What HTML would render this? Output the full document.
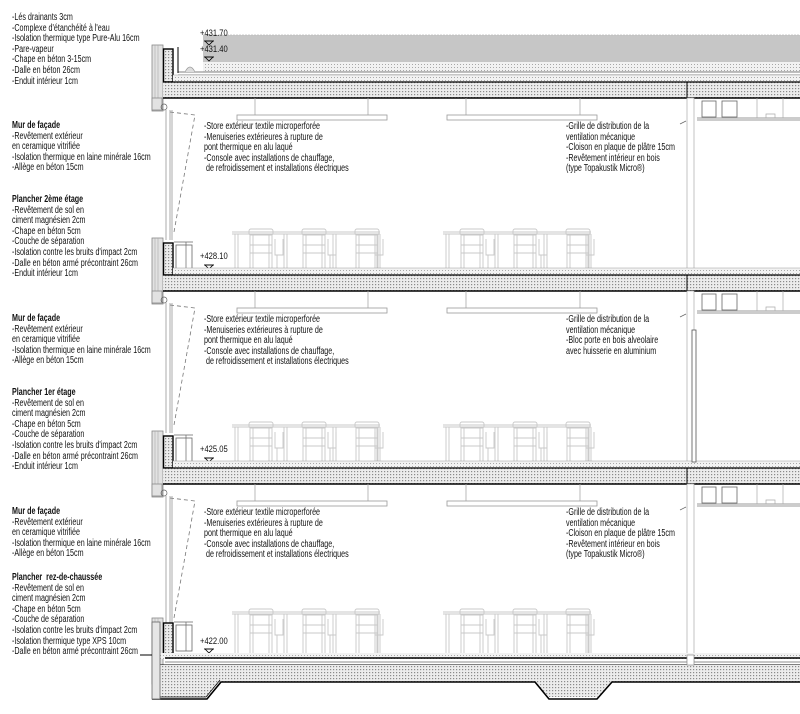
<!DOCTYPE html>
<html><head><meta charset="utf-8">
<style>
html,body{margin:0;padding:0;background:#fff;}
#wrap{position:relative;width:800px;height:714px;overflow:hidden;background:#fff;}
svg{position:absolute;left:0;top:0;}
.t{position:absolute;font-family:"Liberation Sans",Arial,sans-serif;font-size:10px;line-height:10.6px;color:#111;transform:scaleX(0.715);transform-origin:0 0;white-space:nowrap;}
.t b{font-weight:bold;}
.lv{position:absolute;font-family:"Liberation Sans",Arial,sans-serif;font-size:9.5px;color:#111;transform:scaleX(0.8);transform-origin:0 0;white-space:nowrap;}
</style></head><body><div id="wrap">
<svg width="800" height="714" viewBox="0 0 800 714" xmlns="http://www.w3.org/2000/svg">
<defs>
<pattern id="h" width="3" height="3" patternUnits="userSpaceOnUse"><rect width="3" height="3" fill="#ececec"/><rect x="0" y="0" width="1.2" height="1.2" fill="#8a8a8a"/></pattern>
<pattern id="h2" width="3" height="3" patternUnits="userSpaceOnUse"><rect width="3" height="3" fill="#f2f2f2"/><rect x="1" y="1" width="1" height="1" fill="#a8a8a8"/></pattern>
<g id="chair" fill="none" stroke="#c8c8c8" stroke-width="0.9">
<rect x="-12" y="-46" width="24" height="6" rx="2"/>
<path d="M-11 -40V0M11 -40V0M-8 -40V0M8 -40V0M-11 -30H11M-11 -22H11"/>
</g>
<g id="side" fill="none" stroke="#c8c8c8" stroke-width="0.9">
<path d="M0 -36V-20H8V-36M2 -20V0"/>
</g>
<g id="tables">
<g fill="none" stroke="#c8c8c8" stroke-width="0.9">
<path d="M-3 -43H145M-3 -41H145M0 -41V0M3 -41V0M142 -41V0M145 -41V0M49 -41V0M52 -41V0M98 -41V0M101 -41V0"/>
</g>
<use href="#chair" x="26"/><use href="#chair" x="79"/><use href="#chair" x="132"/>
<use href="#side" x="40"/><use href="#side" x="93"/><use href="#side" x="140"/>
</g>
<g id="furn">
<use href="#tables" x="235"/>
<use href="#tables" x="446"/>
<rect x="152" y="-37" width="11" height="66" fill="#e2e2e2" stroke="#888" stroke-width="0.8"/>
<path d="M155 -37V29M158 -37V29" stroke="#aaa" stroke-width="0.6"/>
<rect x="163.5" y="-32" width="9.5" height="32" fill="url(#h)" stroke="#000" stroke-width="1.4"/>
<rect x="176" y="-30" width="16" height="26" fill="#fff" stroke="#666" stroke-width="0.8"/>
<path d="M174 -33H193M186 -33V-4" stroke="#666" stroke-width="0.7" fill="none"/>
</g>
<g id="tri">
<path d="M205 0l4 4l4 -4z" fill="none" stroke="#000" stroke-width="0.8"/>
<path d="M204 0H214" stroke="#000" stroke-width="0.8"/>
</g>
<g id="above">
<use href="#furn"/>
<use href="#tri" y="-10"/>
</g>
<g id="slab">
<rect x="173" y="-7" width="627" height="7" fill="url(#h2)"/>
<path d="M173 -7H800" stroke="#999" stroke-width="0.6"/>
<rect x="163" y="0" width="637" height="16" fill="url(#h)"/>
<path d="M163 0H800" stroke="#000" stroke-width="1.3"/>
<path d="M163 16H800" stroke="#000" stroke-width="1.6"/>
<path d="M687 0V16" stroke="#000" stroke-width="1"/>
</g>
<g id="below">
<path d="M255 16V33M368 16V33M466 16V33M580 16V33" stroke="#aaa" stroke-width="0.8"/>
<rect x="237" y="33" width="150" height="5" fill="#fff" stroke="#999" stroke-width="0.8"/>
<rect x="447" y="33" width="150" height="5" fill="#fff" stroke="#999" stroke-width="0.8"/>
<rect x="152" y="16" width="10" height="12" fill="#e2e2e2" stroke="#888" stroke-width="0.8"/>
<circle cx="164" cy="25" r="3" fill="none" stroke="#666" stroke-width="0.7"/>
<path d="M166 28V158M170 28V158M172 28V158" stroke="#888" stroke-width="0.7"/>
<path d="M170 30L195 33L174 150" stroke="#777" stroke-width="0.8" stroke-dasharray="4,3" fill="none"/>
<rect x="687" y="16" width="7" height="177" fill="#fff" stroke="#aaa" stroke-width="0.7"/>
<path d="M697 36H800M697 38H800" stroke="#777" stroke-width="0.7"/>
<rect x="702" y="19" width="14" height="16" fill="#fff" stroke="#666" stroke-width="0.8"/>
<rect x="722" y="19" width="15" height="16" fill="#fff" stroke="#666" stroke-width="0.8"/>
<path d="M766 36v-4h9v4M757 16V36M783 16V36" stroke="#aaa" stroke-width="0.7" fill="none"/>
<path d="M680 42l6 -3" stroke="#666" stroke-width="0.7"/>
</g>
</defs>

<!-- roof -->
<rect x="203" y="35" width="597" height="28" fill="#c6c6c6"/>
<path d="M203 35H800" stroke="#bbb" stroke-width="0.8" stroke-dasharray="2,1"/>
<rect x="203" y="62" width="597" height="10" fill="url(#h2)"/>
<path d="M178 72H800M178 75H800" stroke="#555" stroke-width="0.8"/>
<path d="M173 79H800" stroke="#000" stroke-width="1.3"/>
<rect x="152" y="45" width="11" height="66" fill="#e2e2e2" stroke="#888" stroke-width="0.8"/>
<path d="M155 45V111M158 45V111" stroke="#aaa" stroke-width="0.6"/>
<rect x="163.5" y="49" width="9.5" height="33" fill="url(#h)" stroke="#000" stroke-width="1.4"/>
<path d="M178 47V73" stroke="#000" stroke-width="1"/>
<path d="M185 72q5 -10 10 0" fill="#ddd" stroke="#999" stroke-width="0.7"/>
<use href="#tri" y="41"/>
<use href="#tri" y="57"/>
<use href="#slab" y="82"/>
<use href="#below" y="82"/>

<use href="#above" y="275"/>
<use href="#slab" y="275"/>
<use href="#below" y="275"/>

<use href="#above" y="468"/>
<use href="#slab" y="468"/>
<use href="#below" y="468"/>

<!-- door on 1st floor -->
<rect x="692" y="330" width="4" height="132" fill="#fff" stroke="#555" stroke-width="0.8"/>

<!-- ground -->
<use href="#furn" y="655"/>
<use href="#tri" y="649"/>
<rect x="160" y="653" width="640" height="6" fill="url(#h2)"/>
<path d="M165 658H800" stroke="#000" stroke-width="1.4"/>
<path d="M165 662H800" stroke="#666" stroke-width="0.8"/>
<path d="M160 665H800" stroke="#000" stroke-width="1"/>
<path d="M160 665H800V682H612L597 697H549L535 682H221L207 697H160Z" fill="url(#h)"/>
<path d="M152 699H207L221 682H535L549 699H597L612 682H800" stroke="#000" stroke-width="1.6" fill="none"/>
<path d="M160 697H206L220 680" stroke="#000" stroke-width="0.7" fill="none"/>
<rect x="152" y="622" width="8" height="77" fill="#e6e6e6" stroke="#666" stroke-width="0.8"/>
<path d="M140 655H152" stroke="#000" stroke-width="1"/>
<rect x="687" y="655" width="7" height="10" fill="#fff" stroke="#888" stroke-width="0.7"/>
</svg>

<div class="lv" style="left:200px;top:28px;">+431.70</div>
<div class="lv" style="left:200px;top:44px;">+431.40</div>
<div class="lv" style="left:200px;top:251px;">+428.10</div>
<div class="lv" style="left:200px;top:444px;">+425.05</div>
<div class="lv" style="left:200px;top:636px;">+422.00</div>

<div class="t" style="left:12px;top:13px;">-Lés drainants 3cm<br>-Complexe d'étanchéité à l'eau<br>-Isolation thermique type Pure-Alu 16cm<br>-Pare-vapeur<br>-Chape en béton 3-15cm<br>-Dalle en béton 26cm<br>-Enduit intérieur 1cm</div>

<div class="t" style="left:12px;top:121px;"><b>Mur de façade</b><br>-Revêtement extérieur<br>en ceramique vitrifiée<br>-Isolation thermique en laine minérale 16cm<br>-Allège en béton 15cm</div>
<div class="t" style="left:12px;top:195px;"><b>Plancher 2ème étage</b><br>-Revêtement de sol en<br>ciment magnésien 2cm<br>-Chape en béton 5cm<br>-Couche de séparation<br>-Isolation contre les bruits d'impact 2cm<br>-Dalle en béton armé précontraint 26cm<br>-Enduit intérieur 1cm</div>

<div class="t" style="left:12px;top:314px;"><b>Mur de façade</b><br>-Revêtement extérieur<br>en ceramique vitrifiée<br>-Isolation thermique en laine minérale 16cm<br>-Allège en béton 15cm</div>
<div class="t" style="left:12px;top:388px;"><b>Plancher 1er étage</b><br>-Revêtement de sol en<br>ciment magnésien 2cm<br>-Chape en béton 5cm<br>-Couche de séparation<br>-Isolation contre les bruits d'impact 2cm<br>-Dalle en béton armé précontraint 26cm<br>-Enduit intérieur 1cm</div>

<div class="t" style="left:12px;top:507px;"><b>Mur de façade</b><br>-Revêtement extérieur<br>en ceramique vitrifiée<br>-Isolation thermique en laine minérale 16cm<br>-Allège en béton 15cm</div>
<div class="t" style="left:12px;top:573px;"><b>Plancher&nbsp; rez-de-chaussée</b><br>-Revêtement de sol en<br>ciment magnésien 2cm<br>-Chape en béton 5cm<br>-Couche de séparation<br>-Isolation contre les bruits d'impact 2cm<br>-Isolation thermique type XPS 10cm<br>-Dalle en béton armé précontraint 26cm</div>

<div class="t" style="left:204px;top:122px;">-Store extérieur textile microperforée<br>-Menuiseries extérieures à rupture de<br>pont thermique en alu laqué<br>-Console avec installations de chauffage,<br>&nbsp;de refroidissement et installations électriques</div>
<div class="t" style="left:204px;top:315px;">-Store extérieur textile microperforée<br>-Menuiseries extérieures à rupture de<br>pont thermique en alu laqué<br>-Console avec installations de chauffage,<br>&nbsp;de refroidissement et installations électriques</div>
<div class="t" style="left:204px;top:508px;">-Store extérieur textile microperforée<br>-Menuiseries extérieures à rupture de<br>pont thermique en alu laqué<br>-Console avec installations de chauffage,<br>&nbsp;de refroidissement et installations électriques</div>

<div class="t" style="left:566px;top:122px;">-Grille de distribution de la<br>ventilation mécanique<br>-Cloison en plaque de plâtre 15cm<br>-Revêtement intérieur en bois<br>(type Topakustik Micro®)</div>
<div class="t" style="left:566px;top:315px;">-Grille de distribution de la<br>ventilation mécanique<br>-Bloc porte en bois alveolaire<br>avec huisserie en aluminium</div>
<div class="t" style="left:566px;top:508px;">-Grille de distribution de la<br>ventilation mécanique<br>-Cloison en plaque de plâtre 15cm<br>-Revêtement intérieur en bois<br>(type Topakustik Micro®)</div>
</div></body></html>
